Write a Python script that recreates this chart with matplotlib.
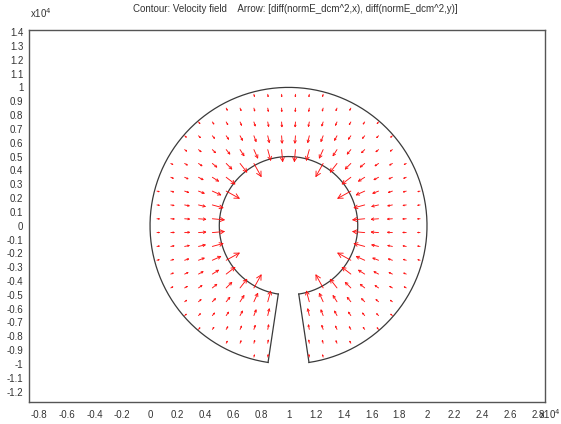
import numpy as np
import matplotlib
matplotlib.use("Agg")
import matplotlib.pyplot as plt
from matplotlib.collections import LineCollection

# ---------------- data (units of 1e4) ----------------
title_text = "Contour: Velocity field    Arrow: [diff(normE_dcm^2,x), diff(normE_dcm^2,y)]"

# geometry of the slotted annulus
center_x, center_y = 1.0, 0.0
r_inner, r_outer = 0.5, 1.0
slot_half_angle_deg = 8.5          # slot centred on the -90 deg direction

# arrow grid positions
grid_x = [0.05, 0.15, 0.25, 0.35, 0.45, 0.55, 0.65, 0.75, 0.85, 0.95,
          1.05, 1.15, 1.25, 1.35, 1.45, 1.55, 1.65, 1.75, 1.85, 1.95]
grid_y = [-0.95, -0.85, -0.75, -0.65, -0.55, -0.45, -0.35, -0.25, -0.15, -0.05,
          0.05, 0.15, 0.25, 0.35, 0.45, 0.55, 0.65, 0.75, 0.85, 0.95]

# arrow length (grad |E|^2 magnitude, plot units) read against radius
profile_r   = [0.50, 0.55, 0.60, 0.65, 0.70, 0.75, 0.80, 0.85, 0.90, 0.95, 1.00]
profile_len = [0.115, 0.086, 0.067, 0.052, 0.042, 0.034, 0.028, 0.023, 0.019, 0.016, 0.014]

x_ticks = [-0.8, -0.6, -0.4, -0.2, 0, 0.2, 0.4, 0.6, 0.8, 1, 1.2, 1.4, 1.6, 1.8,
           2, 2.2, 2.4, 2.6, 2.8]
y_ticks = [-1.2, -1.1, -1, -0.9, -0.8, -0.7, -0.6, -0.5, -0.4, -0.3, -0.2, -0.1, 0,
           0.1, 0.2, 0.3, 0.4, 0.5, 0.6, 0.7, 0.8, 0.9, 1, 1.1, 1.2, 1.3, 1.4]

# ---------------- figure ----------------
W, H = 561, 424
fig = plt.figure(figsize=(W / 100, H / 100), dpi=100)
fig.patch.set_facecolor("white")
plt.rcParams['font.family'] = ['Liberation Sans', 'DejaVu Sans']

ax = fig.add_axes([29 / W, 22 / H, 516 / W, 372 / H])
ax.set_xlim(-0.874, 2.852)
ax.set_ylim(-1.275, 1.415)

geo_color = "#3a3a3a"
lw = 0.9

# boundaries
a0 = np.deg2rad(-90 + slot_half_angle_deg)
a1 = np.deg2rad(270 - slot_half_angle_deg)
t = np.linspace(a0, a1, 400)
ax.plot(center_x + r_outer * np.cos(t), center_y + r_outer * np.sin(t), color=geo_color, lw=lw)
ax.plot(center_x + r_inner * np.cos(t), center_y + r_inner * np.sin(t), color=geo_color, lw=lw)
for a in (a0, a1):
    ax.plot([center_x + r_inner * np.cos(a), center_x + r_outer * np.cos(a)],
            [center_y + r_inner * np.sin(a), center_y + r_outer * np.sin(a)],
            color=geo_color, lw=lw)

# arrow field (tail at grid point, open V head proportional to length)
GX, GY = np.meshgrid(np.array(grid_x), np.array(grid_y))
dx = GX - center_x
dy = GY - center_y
rr = np.hypot(dx, dy)
ang = np.degrees(np.arctan2(dy, dx))
off = np.abs(((ang + 90) + 180) % 360 - 180)
inside = (rr > r_inner) & (rr < r_outer) & (off > slot_half_angle_deg)
L = np.interp(rr, profile_r, profile_len)
U = (-L * dx / rr)[inside]
V = (-L * dy / rr)[inside]
X0 = GX[inside]
Y0 = GY[inside]

segs = []
head_frac, head_ang = 0.36, np.deg2rad(28)
for x0, y0, u, v in zip(X0, Y0, U, V):
    x1, y1 = x0 + u, y0 + v
    segs.append([(x0, y0), (x1, y1)])
    th = np.arctan2(v, u)
    hl = head_frac * np.hypot(u, v)
    for s in (1, -1):
        segs.append([(x1, y1), (x1 - hl * np.cos(th + s * head_ang),
                                y1 - hl * np.sin(th + s * head_ang))])
ax.add_collection(LineCollection(segs, colors='#ff1010', linewidths=0.65,
                                 capstyle='round', zorder=3))

# axes styling
ax.set_xticks(x_ticks)
ax.set_yticks(y_ticks)
fmt = lambda v: f"{round(v, 1) + 0.0:g}"
ax.set_xticklabels([fmt(v) for v in x_ticks])
ax.set_yticklabels([fmt(v) for v in y_ticks])
ax.tick_params(length=0, labelsize=7, colors="#333333", pad=6)
ax.tick_params(axis='y', pad=4)
for s in ax.spines.values():
    s.set_color("#555555")
    s.set_linewidth(1.0)

fig.text(30 / W, 1 - 13 / H, "x10$^4$", fontsize=7, color="#333333", ha='left', va='center')
fig.text(539 / W, 1 - 414 / H, "x10$^4$", fontsize=7, color="#333333", ha='left', va='center')
fig.text(295 / W, 1 - 9 / H, title_text, fontsize=7, color="#333333", ha='center', va='center')

fig.savefig("out.png", dpi=100, facecolor="white")
